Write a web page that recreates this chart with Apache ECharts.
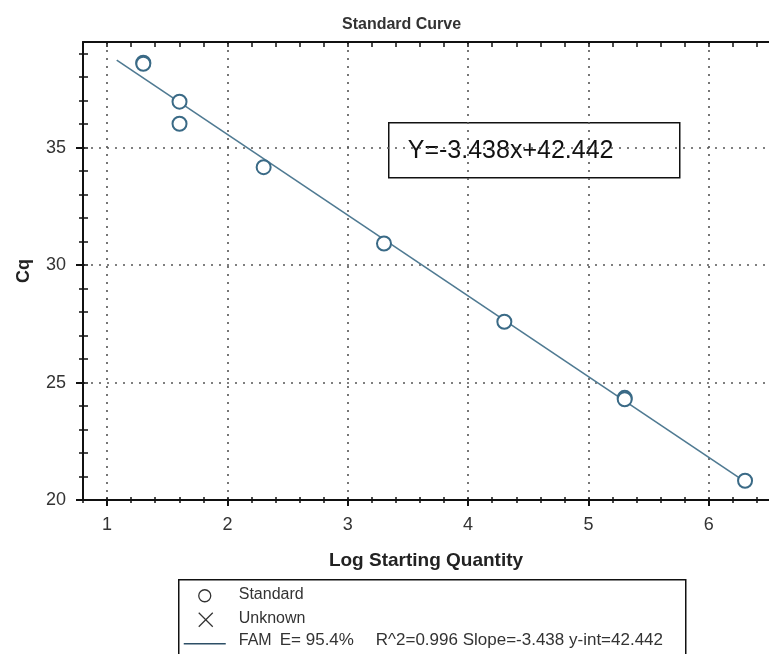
<!DOCTYPE html>
<html>
<head>
<meta charset="utf-8">
<script src="https://cdn.jsdelivr.net/npm/echarts@6/dist/echarts.min.js"></script>
<style>
html,body{margin:0;padding:0;background:#fff;}
#chart{width:769px;height:654px;}
</style>
</head>
<body>
<div id="chart"></div>
<script>
// ---- data ----
var logQuantity = [1.301, 1.301, 1.602, 1.602, 2.301, 3.301, 4.301, 5.301, 5.301, 6.301];
var cqValues    = [38.62, 38.57, 36.96, 36.02, 34.17, 30.92, 27.59, 24.35, 24.29, 20.82];
var fitSlope = -3.438;
var fitIntercept = 42.442;
var fitRange = [1.08, 6.3];
var xMajorTicks = [1, 2, 3, 4, 5, 6];
var xMinorTicks = [0.8, 1.2, 1.4, 1.6, 1.8, 2.2, 2.4, 2.6, 2.8, 3.2, 3.4, 3.6, 3.8,
                   4.2, 4.4, 4.6, 4.8, 5.2, 5.4, 5.6, 5.8, 6.2, 6.4];
var yMajorTicks = [20, 25, 30, 35];
var yMinorTicks = [21, 22, 23, 24, 26, 27, 28, 29, 31, 32, 33, 34, 36, 37, 38, 39];
var chartTitle = 'Standard Curve';
var xTitle = 'Log Starting Quantity';
var yTitle = 'Cq';
var equationText = 'Y=-3.438x+42.442';
var legendLabels = ['Standard', 'Unknown', 'FAM'];
var legendStatsA = 'E= 95.4%';
var legendStatsB = 'R^2=0.996 Slope=-3.438 y-int=42.442';

// ---- derived ----
var points = logQuantity.map(function (x, i) { return [x, cqValues[i]]; });
var fitLine = fitRange.map(function (x) { return [x, fitSlope * x + fitIntercept]; });
var xAllTicks = xMajorTicks.concat(xMinorTicks);
var yAllTicks = yMajorTicks.concat(yMinorTicks);

var FONT = "'Liberation Sans', Arial, sans-serif";
var X_MIN = 0.8, X_MAX = 6.5, Y_MIN = 20, Y_MAX = 39.5;
var dotted = { type: [2, 6], width: 1.6, color: '#555' };
var axisLineStyle = { show: true, lineStyle: { color: '#111', width: 2 } };

function xAx(extra) {
  return Object.assign({
    type: 'value', min: X_MIN, max: X_MAX, gridIndex: 0,
    axisLine: { show: false }, axisLabel: { show: false },
    splitLine: { show: false }, minorTick: { show: false }
  }, extra);
}
function yAx(extra) {
  return Object.assign({
    type: 'value', min: Y_MIN, max: Y_MAX, gridIndex: 0,
    axisLine: { show: false }, axisLabel: { show: false },
    splitLine: { show: false }, minorTick: { show: false }
  }, extra);
}

var chart = echarts.init(document.getElementById('chart'), null, { renderer: 'canvas' });
chart.setOption({
  animation: false,
  backgroundColor: '#fff',
  title: {
    text: chartTitle, left: 337, top: 12,
    textStyle: { fontFamily: FONT, fontSize: 16, fontWeight: 'bold', color: '#333' }
  },
  grid: { left: 83, top: 42, right: 0, bottom: 154, containLabel: false, outerBoundsMode: 'none' },
  xAxis: [
    xAx({
      position: 'bottom',
      axisLine: axisLineStyle,
      axisTick: { show: true, customValues: xMajorTicks, length: 6, lineStyle: { color: '#111', width: 2 } },
      axisLabel: { show: true, customValues: xMajorTicks, margin: 16, fontFamily: FONT, fontSize: 18, color: '#333' },
      splitLine: { show: true, lineStyle: dotted },
      name: xTitle, nameLocation: 'middle', nameGap: 51,
      nameTextStyle: { fontFamily: FONT, fontSize: 19, fontWeight: 'bold', color: '#222' }
    }),
    xAx({
      position: 'bottom',
      axisTick: { show: true, customValues: xMinorTicks, length: 3, lineStyle: { color: '#111', width: 1.5 } }
    }),
    xAx({
      position: 'bottom',
      axisTick: { show: true, inside: true, customValues: xAllTicks, length: 3, lineStyle: { color: '#111', width: 1.5 } }
    }),
    xAx({
      position: 'top',
      axisLine: axisLineStyle,
      axisTick: { show: true, inside: true, customValues: xAllTicks, length: 5, lineStyle: { color: '#111', width: 1.5 } }
    })
  ],
  yAxis: [
    yAx({
      position: 'left',
      axisLine: axisLineStyle,
      axisTick: { show: true, customValues: yMajorTicks, length: 7, lineStyle: { color: '#111', width: 2 } },
      axisLabel: { show: true, customValues: yMajorTicks, margin: 17, fontFamily: FONT, fontSize: 18, color: '#333' },
      splitLine: { show: true, lineStyle: dotted },
      name: yTitle, nameLocation: 'middle', nameGap: 50, nameRotate: 90,
      nameTextStyle: { fontFamily: FONT, fontSize: 18, fontWeight: 'bold', color: '#222' }
    }),
    yAx({
      position: 'left',
      axisTick: { show: true, customValues: yMinorTicks, length: 4, lineStyle: { color: '#111', width: 1.5 } }
    }),
    yAx({
      position: 'left',
      axisTick: { show: true, inside: true, customValues: yAllTicks, length: 5, lineStyle: { color: '#111', width: 1.5 } }
    })
  ],
  series: [
    {
      type: 'line', name: 'FAM', xAxisIndex: 0, yAxisIndex: 0,
      data: fitLine, showSymbol: false, symbol: 'none',
      lineStyle: { color: '#4f7a92', width: 1.6 }, z: 2
    },
    {
      type: 'scatter', name: 'Standard', xAxisIndex: 0, yAxisIndex: 0,
      data: points, symbol: 'emptyCircle', symbolSize: 14,
      itemStyle: { color: '#3a6a86', borderColor: '#3a6a86', borderWidth: 2, opacity: 1 },
      z: 3
    }
  ],
  graphic: [
    {
      type: 'group', left: 388, top: 122, z: 10,
      children: [
        { type: 'rect', shape: { x: 0, y: 0, width: 291, height: 55 },
          style: { fill: '#fff', stroke: '#111', lineWidth: 1.5 } },
        { type: 'text', x: 19, y: 28,
          style: { text: equationText, font: "25px 'Liberation Sans', Arial, sans-serif",
                   fill: '#111', verticalAlign: 'middle', align: 'left' } }
      ]
    },
    {
      type: 'group', left: 178, top: 579, z: 10,
      children: [
        { type: 'rect', shape: { x: 0, y: 0, width: 507, height: 90 },
          style: { fill: '#fff', stroke: '#111', lineWidth: 1.5 } },
        { type: 'circle', shape: { cx: 26, cy: 16, r: 6 },
          style: { fill: 'none', stroke: '#333', lineWidth: 1.3 } },
        { type: 'line', shape: { x1: 20, y1: 33, x2: 34, y2: 47 }, style: { stroke: '#333', lineWidth: 1.3 } },
        { type: 'line', shape: { x1: 34, y1: 33, x2: 20, y2: 47 }, style: { stroke: '#333', lineWidth: 1.3 } },
        { type: 'line', shape: { x1: 5, y1: 64, x2: 47, y2: 64 }, style: { stroke: '#2d4f66', lineWidth: 1.3 } },
        { type: 'text', x: 60, y: 15,
          style: { text: legendLabels[0], font: "16px 'Liberation Sans', Arial, sans-serif", fill: '#333', verticalAlign: 'middle' } },
        { type: 'text', x: 60, y: 39,
          style: { text: legendLabels[1], font: "16px 'Liberation Sans', Arial, sans-serif", fill: '#333', verticalAlign: 'middle' } },
        { type: 'text', x: 60, y: 61,
          style: { text: legendLabels[2], font: "16px 'Liberation Sans', Arial, sans-serif", fill: '#333', verticalAlign: 'middle' } },
        { type: 'text', x: 101, y: 61,
          style: { text: legendStatsA, font: "17px 'Liberation Sans', Arial, sans-serif", fill: '#333', verticalAlign: 'middle' } },
        { type: 'text', x: 197, y: 61,
          style: { text: legendStatsB, font: "17px 'Liberation Sans', Arial, sans-serif", fill: '#333', verticalAlign: 'middle' } }
      ]
    }
  ]
});
</script>
</body>
</html>
